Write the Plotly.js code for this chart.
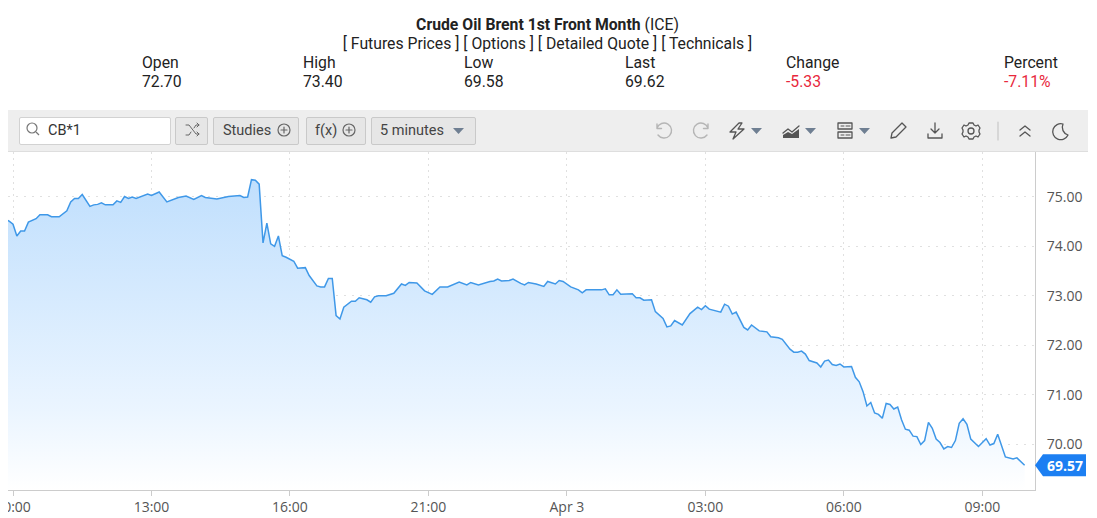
<!DOCTYPE html>
<html>
<head>
<meta charset="utf-8">
<script src="https://cdn.plot.ly/plotly-3.0.1.min.js"></script>
<style>
html,body{margin:0;padding:0;background:#fff;width:1097px;height:518px;overflow:hidden;font-family:Roboto,sans-serif;color:#222}
.t{position:absolute;white-space:nowrap;font-size:15.75px;line-height:19px}
.c{left:0;width:1095px;text-align:center}
.red{color:#e8283c}
#bar{position:absolute;left:8px;top:110px;width:1080px;height:41px;background:#eeeeee;border-bottom:1px solid #dedede}
.btn{position:absolute;top:117px;height:26px;line-height:25px;background:#e6e6e6;border:1px solid #c9c9c9;border-radius:2px;font-size:14.5px;color:#444;box-sizing:content-box;white-space:nowrap}
.btn span{position:absolute;top:0}
#search{background:#fff;border-color:#d2d2d2;color:#333}
svg.i{position:absolute;overflow:visible;fill:none}
#chart{position:absolute;left:8px;top:152px;width:1089px;height:366px;overflow:hidden}
</style>
</head>
<body>
<div class="t c" style="top:15px"><b style="font-weight:700">Crude Oil Brent 1st Front Month</b> (ICE)</div>
<div class="t c" style="top:34px">[ Futures Prices ] [ Options ] [ Detailed Quote ] [ Technicals ]</div>
<div class="t" style="left:142px;top:53px">Open</div><div class="t" style="left:142px;top:72px">72.70</div>
<div class="t" style="left:303px;top:53px">High</div><div class="t" style="left:303px;top:72px">73.40</div>
<div class="t" style="left:464px;top:53px">Low</div><div class="t" style="left:464px;top:72px">69.58</div>
<div class="t" style="left:625px;top:53px">Last</div><div class="t" style="left:625px;top:72px">69.62</div>
<div class="t" style="left:786px;top:53px">Change</div><div class="t red" style="left:786px;top:72px">-5.33</div>
<div class="t" style="left:1004px;top:53px">Percent</div><div class="t red" style="left:1004px;top:72px">-7.11%</div>

<div id="bar"></div>
<div class="btn" id="search" style="left:19px;width:150px"><span style="left:28px">CB*1</span></div>
<svg class="i" style="left:0;top:0" width="1" height="1" stroke="#777" stroke-width="1.2"><circle cx="32" cy="128" r="5"/><path d="M36 132l3 3"/></svg>
<div class="btn" style="left:175px;width:31px"></div>
<div class="btn" style="left:213px;width:84px"><span style="left:9px">Studies</span></div>
<div class="btn" style="left:306px;width:58px"><span style="left:8px">f(x)</span></div>
<div class="btn" style="left:371px;width:103px"><span style="left:8px">5 minutes</span></div>
<svg class="i" style="left:0;top:0" width="1097" height="160" stroke="#666" stroke-width="1.2" stroke-linecap="round" stroke-linejoin="round">
  <path d="M186 125l3 0 7 9 3 0M186 135l3 0 2-3M194 128l2-3 3 0M197 123l2 2-2 2M197 132l2 2-2 2" stroke-width="1"/>
  <circle cx="284" cy="130" r="6"/><path d="M281 130h6M284 127v6"/>
  <circle cx="349" cy="130" r="6"/><path d="M346 130h6M349 127v6"/>
  <path d="M453 128h11l-5.5 6z" fill="#6f7f92" stroke="none"/>
  <g stroke="#b5b5b5" stroke-width="1.4">
    <path d="M657 128a7.5 7.5 0 1 1 1 7M657 124v4.5h4.5"/>
    <path d="M708 128a7.5 7.5 0 1 0 -1 7M708 124v4.5h-4.5"/>
  </g>
  <g stroke="#555" stroke-width="1.3">
    <path d="M739 123l-9 9h6l-3 7 11-10h-6l4-6z"/>
    <path d="M783 133l5-4 4 3 7-6"/>
    <path d="M838 123h14v6h-14zM838 132h14v6h-14z"/>
    <path d="M841 126h3M841 135h3M846 126h4M846 135h4" stroke-width="1"/>
    <path d="M891 138l1-5 10-10 4 4-10 10z"/>
    <path d="M935 123v10M931 129l4 4 4-4M928 134v4h14v-4"/>
    <circle cx="971" cy="131" r="3"/>
    <path d="M969 123h4l1 2 2 1 2-1 2 3-1 2v2l1 2-2 3-2-1-2 1-1 2h-4l-1-2-2-1-2 1-2-3 1-2v-2l-1-2 2-3 2 1 2-1z"/>
    <path d="M1020 130l5-4 5 4M1020 136l5-4 5 4"/>
    <path d="M1063 124a8 8 0 1 0 5 11 8 8 0 0 1 -5-11z"/>
  </g>
  <path d="M751 128h11l-5.5 6zM805 128h11l-5.5 6zM859 128h11l-5.5 6z" fill="#6f7f92" stroke="none"/>
  <path d="M998 122v18" stroke="#c8c8c8"/>
  <path d="M783 138v-3l5-3 4 2 7-5v9z" fill="#555" stroke="none"/>
</svg>

<div id="chart"></div>
<script>
var barIndex = [-2,-1,0,1,2,3,4,6,7,9,10,12,14,15,16,17,18,19,20,21,22,23,24,26,27,28,29,30,31,32,35,36,38,40,42,43,
45,46,47,49,50,53,54,56,59,60,61,62,63,64,65,66,67,68,69,70,71,73,74,76,77,79,80,81,82,83,84,85,86,88,
89,90,92,93,94,95,97,99,101,102,103,105,107,109,111,113,116,118,119,121,124,125,126,127,129,130,132,
133,134,136,138,139,141,142,143,145,147,148,149,151,152,153,154,155,156,157,158,161,162,163,164,166,167,169,170,171,172,174,176,
178,179,180,181,184,185,186,187,188,190,191,192,194,196,197,199,200,202,203,204,205,206,207,209,210,211,212,213,214,215,216,218,219,
220,221,222,223,224,225,226,227,228,229,230,231,232,233,234,235,236,237,238,239,240,241,242,243,244,245,246,247,248,249,251,253,254,255,256,258,260,261,263];
var prices = [74.55,74.51,74.45,74.21,74.31,74.31,74.49,74.56,74.64,74.64,74.60,74.60,74.72,74.90,74.97,74.97,75.05,74.94,74.81,74.84,74.85,74.88,74.84,74.84,74.92,74.89,75.01,74.97,75.00,74.97,75.06,75.03,75.10,74.90,74.95,74.99,
75.02,74.98,74.95,75.03,74.99,74.96,74.98,75.01,75.03,74.99,75.00,75.35,75.34,75.26,74.07,74.47,74.05,74.00,74.21,73.81,73.78,73.70,73.56,73.57,73.41,73.20,73.18,73.18,73.35,73.35,72.60,72.53,72.77,72.89,
72.89,72.96,72.92,72.87,72.98,73.00,73.00,73.05,73.24,73.21,73.27,73.26,73.10,73.03,73.18,73.18,73.28,73.22,73.27,73.22,73.29,73.30,73.34,73.30,73.31,73.34,73.25,
73.22,73.27,73.24,73.19,73.29,73.24,73.31,73.29,73.18,73.12,73.06,73.12,73.12,73.13,73.12,73.14,73.02,73.02,73.12,73.03,73.04,72.96,72.96,72.91,72.92,72.68,72.54,72.37,72.39,72.50,72.41,72.64,
72.77,72.72,72.80,72.73,72.67,72.83,72.79,72.63,72.67,72.36,72.31,72.41,72.29,72.27,72.17,72.15,72.12,71.92,71.86,71.86,71.88,71.82,71.69,71.64,71.56,71.68,71.70,71.61,71.59,71.62,71.56,71.57,71.35,
71.26,71.06,70.77,70.84,70.63,70.60,70.52,70.82,70.80,70.71,70.75,70.49,70.30,70.28,70.16,70.15,69.99,70.07,70.44,70.32,70.10,70.03,69.90,69.95,69.93,70.07,70.42,70.51,70.40,70.10,69.95,70.11,69.98,70.01,70.20,69.74,69.70,69.72,69.57];
var xTickBars = [0,36,72,108,144,180,216,252];
var xTickLabels = ['10:00','13:00','16:00','21:00','Apr 3','03:00','06:00','09:00'];
var yTicks = [70,71,72,73,74,75];
var lastPrice = prices[prices.length-1];

Plotly.newPlot('chart',[{
  x:barIndex, y:prices, type:'scatter', mode:'lines',
  line:{color:'#3f98e8',width:1.5,shape:'linear'},
  fill:'tozeroy',
  fillgradient:{type:'vertical',start:69.07,stop:75.4,colorscale:[[0,'#ffffff'],[0.25,'#ebf5ff'],[1,'#c0dffd']]},
  hoverinfo:'skip', showlegend:false
}],{
  width:1089,height:366,
  margin:{l:0,r:62,t:0,b:28,pad:0},
  paper_bgcolor:'rgba(0,0,0,0)',plot_bgcolor:'#fff',
  font:{family:'"Open Sans",sans-serif',size:14,color:'#555'},
  xaxis:{type:'linear',range:[-1.3,265.7],tickmode:'array',tickvals:xTickBars,ticktext:xTickLabels,ticklabeloverflow:'allow',
    ticks:'outside',ticklen:5,tickcolor:'#ccc',tickwidth:1,showline:true,linecolor:'#ccc',linewidth:1,ticklabelstandoff:-1,
    showgrid:true,gridcolor:'#e0e0e0',griddash:'2px,4px',gridwidth:1,zeroline:false,fixedrange:true},
  yaxis:{side:'right',range:[69.07,75.91],tickmode:'array',tickvals:yTicks,tickformat:'.2f',
    ticks:'',ticklabelstandoff:8,showline:true,linecolor:'#ccc',linewidth:1,
    showgrid:true,gridcolor:'#e0e0e0',griddash:'2px,6px',gridwidth:1,zeroline:false,fixedrange:true},
  shapes:[{type:'path',xref:'paper',yref:'y',xsizemode:'pixel',ysizemode:'pixel',xanchor:1,yanchor:lastPrice,
    path:'M0,0 L8,11 L51,11 L51,-11 L8,-11 Z',fillcolor:'#1c7ff2',line:{width:0}}],
  annotations:[{xref:'paper',yref:'y',x:1,y:lastPrice,xshift:30,xanchor:'center',yanchor:'middle',showarrow:false,text:'<b>'+lastPrice.toFixed(2)+'</b>',
    font:{family:'"Open Sans",sans-serif',size:14,color:'#fff'}}]
},{displayModeBar:false,staticPlot:true});
</script>
</body>
</html>
